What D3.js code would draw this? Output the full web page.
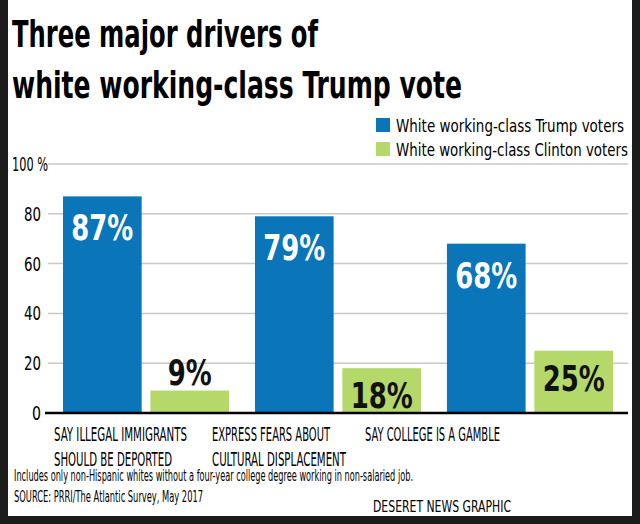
<!DOCTYPE html>
<html><head><meta charset="utf-8">
<script src="https://cdn.jsdelivr.net/npm/d3@7"></script>
<style>
body{margin:0;background:#1c1c1c;}
svg{display:block;}
text{font-family:"Liberation Sans Narrow","DejaVu Sans Condensed",sans-serif;}
</style></head><body>
<script>
const categories = ["SAY ILLEGAL IMMIGRANTS|SHOULD BE DEPORTED", "EXPRESS FEARS ABOUT|CULTURAL DISPLACEMENT", "SAY COLLEGE IS A GAMBLE"];
const trump = [87, 79, 68];
const clinton = [9, 18, 25];
const yTicks = [0, 20, 40, 60, 80, 100];
const seriesNames = ["White working-class Trump voters", "White working-class Clinton voters"];
const colors = ["#0a75b8", "#b5d86b"];

// squeeze text to a given width (no narrow font available)
function fit(sel, w) {
  return sel.attr("textLength", w).attr("lengthAdjust", "spacingAndGlyphs");
}

const svg = d3.select("body").append("svg").attr("width", 640).attr("height", 524);
svg.append("rect").attr("x", 8).attr("y", 0).attr("width", 624).attr("height", 516).attr("fill", "#fff");

fit(svg.append("text").attr("x", 12).attr("y", 47).attr("font-size", 38).attr("font-weight", "bold").text("Three major drivers of"), 306);
fit(svg.append("text").attr("x", 12).attr("y", 98).attr("font-size", 38).attr("font-weight", "bold").text("white working-class Trump vote"), 450);

// legend
const legW = [228, 232];
seriesNames.forEach((n, i) => {
  const g = svg.append("g").attr("transform", `translate(376,${118 + i * 24})`);
  g.append("rect").attr("width", 14).attr("height", 14).attr("fill", colors[i]);
  fit(g.append("text").attr("x", 20).attr("y", 14).attr("font-size", 18).text(n), legW[i]);
});

const y = d3.scaleLinear().domain([0, 100]).range([413, 164]);
const x0 = d3.scaleBand().domain(d3.range(categories.length)).range([63, 613]).paddingInner(0.135).paddingOuter(0);
const x1 = d3.scaleBand().domain([0, 1]).range([0, x0.bandwidth()]).paddingInner(0.1);

// grid
svg.append("g").selectAll("line").data(yTicks.slice(1)).join("line")
  .attr("x1", 48).attr("x2", 628).attr("y1", d => y(d)).attr("y2", d => y(d))
  .attr("stroke", "#c8c8c8").attr("stroke-width", 1.5);
svg.append("g").selectAll("text").data(yTicks).join("text")
  .attr("x", d => d === 100 ? 12 : 41).attr("y", d => y(d) + 7)
  .attr("text-anchor", d => d === 100 ? "start" : "end").attr("font-size", 19)
  .attr("textLength", d => d === 100 ? 36 : (d === 0 ? 9 : 17)).attr("lengthAdjust", "spacingAndGlyphs")
  .text(d => d === 100 ? "100 %" : d);

const groups = svg.append("g").selectAll("g").data(categories).join("g")
  .attr("transform", (d, i) => `translate(${x0(i)},0)`);

groups.append("rect").attr("x", x1(0)).attr("width", x1.bandwidth())
  .attr("y", (d, i) => y(trump[i])).attr("height", (d, i) => y(0) - y(trump[i])).attr("fill", colors[0]);
groups.append("rect").attr("x", x1(1)).attr("width", x1.bandwidth())
  .attr("y", (d, i) => y(clinton[i])).attr("height", (d, i) => y(0) - y(clinton[i])).attr("fill", colors[1]);

fit(groups.append("text").attr("x", x1(0) + x1.bandwidth() / 2).attr("y", (d, i) => y(trump[i]) + 44)
  .attr("text-anchor", "middle").attr("font-size", 36).attr("font-weight", "bold").attr("fill", "#fff")
  .text((d, i) => trump[i] + "%"), 62);
groups.append("text").attr("x", x1(1) + x1.bandwidth() / 2)
  .attr("y", (d, i) => clinton[i] >= 15 ? y(clinton[i]) + 40 : y(clinton[i]) - 6)
  .attr("text-anchor", "middle").attr("font-size", 36).attr("font-weight", "bold").attr("fill", "#111")
  .attr("textLength", (d, i) => clinton[i] < 10 ? 44 : 62).attr("lengthAdjust", "spacingAndGlyphs")
  .text((d, i) => clinton[i] + "%");

// category labels
const labelX = [54, 212, 365];
const labelW = [[133, 118], [118, 134], [135]];
svg.append("g").selectAll("text").data(categories).join("text")
  .attr("y", 441).attr("font-size", 19)
  .each(function (d, i) {
    d3.select(this).selectAll("tspan").data(d.split("|")).join("tspan")
      .attr("x", labelX[i]).attr("dy", (t, j) => j ? 25 : 0)
      .attr("textLength", (t, j) => labelW[i][j]).attr("lengthAdjust", "spacingAndGlyphs")
      .text(t => t);
  });

svg.append("line").attr("x1", 45).attr("x2", 628).attr("y1", y(0)).attr("y2", y(0)).attr("stroke", "#000").attr("stroke-width", 2.5);

fit(svg.append("text").attr("x", 14).attr("y", 481).attr("font-size", 15).text("Includes only non-Hispanic whites without a four-year college degree working in non-salaried job."), 399);
fit(svg.append("text").attr("x", 14).attr("y", 502).attr("font-size", 15).text("SOURCE: PRRI/The Atlantic Survey, May 2017"), 189);
fit(svg.append("text").attr("x", 373).attr("y", 512).attr("font-size", 16).text("DESERET NEWS GRAPHIC"), 138);
</script>
</body></html>
